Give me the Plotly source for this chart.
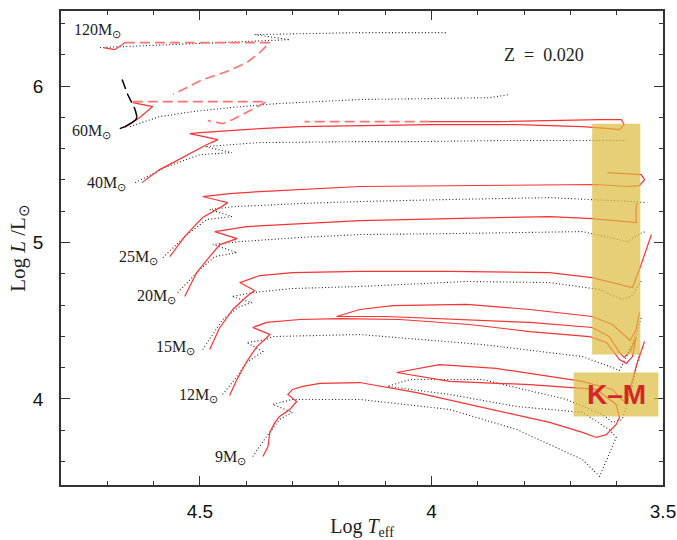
import plotly.graph_objects as go

# ---------------- data: (log Teff, log L/Lsun) ----------------
# 120 Msun
m120_red_x = [4.709, 4.684, 4.668, 4.662]
m120_red_y = [6.246, 6.233, 6.265, 6.278]
m120_dash_x = [4.662, 4.500, 4.349, 4.371, 4.399, 4.442, 4.494, 4.558]
m120_dash_y = [6.278, 6.278, 6.278, 6.214, 6.150, 6.093, 6.042, 5.946]
m120_dot_x = [4.716, 4.500, 4.306, 4.382, 4.285, 4.155, 3.967]
m120_dot_y = [6.246, 6.272, 6.297, 6.329, 6.335, 6.342, 6.342]

# 60 Msun
m60_red_x = [4.662, 4.630, 4.602, 4.623, 4.645]
m60_red_y = [5.735, 5.799, 5.869, 5.882, 5.894]
m60_dash_x = [4.645, 4.500, 4.356, 4.367, 4.399, 4.429, 4.451, 4.483]
m60_dash_y = [5.901, 5.901, 5.901, 5.882, 5.831, 5.786, 5.760, 5.780]
m60_kdash_x = [4.668, 4.662, 4.656, 4.647, 4.640, 4.636]
m60_kdash_y = [6.042, 5.990, 5.946, 5.894, 5.850, 5.805]
m60_ksolid_x = [4.636, 4.638, 4.647, 4.662, 4.673]
m60_ksolid_y = [5.805, 5.786, 5.767, 5.741, 5.728]
m60_dot_x = [4.651, 4.587, 4.515, 4.436, 4.334, 4.155, 4.004, 3.875, 3.832]
m60_dot_y = [5.741, 5.805, 5.837, 5.862, 5.888, 5.914, 5.920, 5.926, 5.946]

# 40 Msun
m40_red_x = [4.625, 4.587, 4.554, 4.515, 4.489, 4.461, 4.489, 4.522, 4.500, 4.436, 4.371, 4.285,
             4.155, 4.004, 3.816, 3.674, 3.616, 3.594, 3.584, 3.590, 3.637, 3.724, 3.853, 4.004]
m40_red_y = [5.383, 5.466, 5.517, 5.581, 5.620, 5.658, 5.677, 5.696, 5.703, 5.716, 5.728, 5.741,
             5.748, 5.754, 5.754, 5.741, 5.728, 5.722, 5.754, 5.786, 5.786, 5.780, 5.773, 5.773]
m40_dash_x = [4.004, 4.274]
m40_dash_y = [5.773, 5.773]
m40_dot_x = [4.640, 4.576, 4.500, 4.431, 4.489, 4.371, 4.155, 4.032, 3.853, 3.579]
m40_dot_y = [5.383, 5.479, 5.562, 5.575, 5.613, 5.639, 5.645, 5.645, 5.652, 5.652]

# 25 Msun
m25_red_x = [4.565, 4.548, 4.533, 4.511, 4.494, 4.457, 4.440, 4.468, 4.494, 4.436, 4.371, 4.155,
             3.961, 3.717, 3.644, 3.577, 3.551, 3.540, 3.547, 3.620]
m25_red_y = [4.910, 4.974, 5.038, 5.108, 5.160, 5.223, 5.255, 5.275, 5.294, 5.313, 5.326, 5.358,
             5.364, 5.371, 5.371, 5.358, 5.364, 5.402, 5.434, 5.447]
m25_dot_x = [4.580, 4.528, 4.485, 4.431, 4.479, 4.425, 4.285, 4.155, 3.961, 3.745, 3.566, 3.534]
m25_dot_y = [4.904, 5.051, 5.147, 5.166, 5.211, 5.230, 5.249, 5.262, 5.275, 5.287, 5.262, 5.255]

# 20 Msun
m20_red_x = [4.533, 4.507, 4.479, 4.457, 4.420, 4.468, 4.399, 4.285, 4.155, 3.961, 3.745, 3.653,
             3.558, 3.558, 3.555]
m20_red_y = [4.655, 4.808, 4.910, 4.987, 5.025, 5.070, 5.102, 5.121, 5.140, 5.153, 5.166, 5.153,
             5.128, 5.230, 5.255]
m20_dot_x = [4.548, 4.500, 4.468, 4.420, 4.472, 4.414, 4.285, 4.155, 3.961, 3.674, 3.577, 3.545, 3.536]
m20_dot_y = [4.680, 4.827, 4.910, 4.936, 4.987, 5.006, 5.032, 5.051, 5.057, 5.070, 5.006, 5.064, 5.070]

# 15 Msun
m15_red_x = [4.479, 4.457, 4.429, 4.399, 4.382, 4.414, 4.371, 4.300, 4.155, 3.961, 3.745, 3.653,
             3.566, 3.551, 3.525]
m15_red_y = [4.316, 4.457, 4.572, 4.655, 4.693, 4.744, 4.789, 4.808, 4.815, 4.815, 4.808, 4.776,
             4.712, 4.827, 5.051]
m15_dot_x = [4.494, 4.451, 4.414, 4.388, 4.431, 4.386, 4.300, 4.155, 3.924, 3.745, 3.637, 3.588,
             3.568, 3.545]
m15_dot_y = [4.316, 4.508, 4.591, 4.616, 4.655, 4.680, 4.706, 4.719, 4.751, 4.744, 4.700, 4.636,
             4.655, 4.763]

# 12 Msun
m12_red_x = [4.436, 4.420, 4.399, 4.377, 4.360, 4.349, 4.386, 4.356, 4.285, 4.198, 4.069, 3.918,
             3.788, 3.659, 3.622, 3.594, 3.579, 3.566, 3.558, 3.571, 3.584, 3.594, 3.616, 3.653,
             3.788, 3.961, 4.097, 4.205, 4.155, 4.084, 3.924, 3.788, 3.653, 3.609, 3.579, 3.571,
             3.558, 3.551]
m12_red_y = [4.022, 4.124, 4.239, 4.335, 4.380, 4.412, 4.457, 4.489, 4.508, 4.514, 4.508, 4.476,
             4.431, 4.399, 4.361, 4.252, 4.227, 4.271, 4.393, 4.303, 4.265, 4.297, 4.399, 4.457,
             4.489, 4.508, 4.527, 4.527, 4.572, 4.597, 4.604, 4.572, 4.527, 4.476, 4.393, 4.374,
             4.444, 4.552]
m12_dot_x = [4.451, 4.425, 4.399, 4.364, 4.399, 4.356, 4.343, 4.155, 3.890, 3.674, 3.609, 3.594,
             3.579, 3.558, 3.547]
m12_dot_y = [4.029, 4.124, 4.233, 4.303, 4.361, 4.380, 4.399, 4.412, 4.348, 4.271, 4.201, 4.182,
             4.271, 4.412, 4.521]

# 9 Msun
m9_red_x = [4.364, 4.353, 4.349, 4.338, 4.328, 4.306, 4.291, 4.310, 4.300, 4.278, 4.241, 4.155,
            4.032, 3.890, 3.745, 3.674, 3.644, 3.622, 3.601, 3.594, 3.601, 3.644, 3.788, 3.961,
            4.075, 3.983, 3.860, 3.674, 3.631, 3.609, 3.590, 3.579, 3.558, 3.540]
m9_red_y = [3.632, 3.696, 3.786, 3.850, 3.888, 3.933, 3.984, 4.029, 4.061, 4.080, 4.099, 4.105,
            4.041, 3.946, 3.850, 3.786, 3.754, 3.773, 3.837, 3.882, 3.965, 4.061, 4.092, 4.112,
            4.169, 4.220, 4.195, 4.112, 4.080, 4.061, 3.997, 3.978, 4.207, 4.367]
m9_dot_x = [4.386, 4.356, 4.328, 4.300, 4.343, 4.300, 4.155, 3.961, 3.816, 3.674, 3.637, 3.609,
            3.601, 3.616, 3.674, 3.816, 3.961, 4.095, 4.047, 3.890, 3.709, 3.631, 3.609, 3.588,
            3.566, 3.551]
m9_dot_y = [3.632, 3.760, 3.869, 3.914, 3.965, 3.997, 3.997, 3.933, 3.805, 3.613, 3.505, 3.696,
            3.754, 3.805, 3.914, 3.952, 4.029, 4.080, 4.124, 4.124, 3.997, 3.901, 3.850, 3.869,
            4.080, 4.297]

# mass labels (text anchored at right edge)
mass_labels = ["120", "60", "40", "25", "20", "15", "12", "9"]
label_x = [4.666, 4.688, 4.655, 4.587, 4.548, 4.507, 4.457, 4.397]
label_y = [6.377, 5.731, 5.396, 4.923, 4.677, 4.348, 4.044, 3.645]

# highlighted K-M regions (log Teff range, log L range)
rsg_box_x = [3.653, 3.549]
rsg_box_y = [4.284, 5.760]
km_box_x = [3.693, 3.510]
km_box_y = [3.888, 4.169]
km_text_pos = [3.600, 4.030]
z_text_pos = [3.756, 6.201]

# ---------------- styles ----------------
RED = "rgb(255,50,50)"
RED_DASH = "rgb(255,115,115)"
DOT = "rgb(35,35,35)"

fig = go.Figure()

dotted = [(m120_dot_x, m120_dot_y), (m60_dot_x, m60_dot_y), (m40_dot_x, m40_dot_y),
          (m25_dot_x, m25_dot_y), (m20_dot_x, m20_dot_y), (m15_dot_x, m15_dot_y),
          (m12_dot_x, m12_dot_y), (m9_dot_x, m9_dot_y)]
for xs, ys in dotted:
    fig.add_trace(go.Scatter(x=xs, y=ys, mode="lines",
                             line=dict(color=DOT, width=1.1, dash="1px,2.3px"),
                             hoverinfo="skip", showlegend=False))

solid = [(m120_red_x, m120_red_y), (m60_red_x, m60_red_y), (m40_red_x, m40_red_y),
         (m25_red_x, m25_red_y), (m20_red_x, m20_red_y), (m15_red_x, m15_red_y),
         (m12_red_x, m12_red_y), (m9_red_x, m9_red_y)]
for xs, ys in solid:
    fig.add_trace(go.Scatter(x=xs, y=ys, mode="lines",
                             line=dict(color=RED, width=1.2),
                             hoverinfo="skip", showlegend=False))

for xs, ys in [(m120_dash_x, m120_dash_y), (m60_dash_x, m60_dash_y), (m40_dash_x, m40_dash_y)]:
    fig.add_trace(go.Scatter(x=xs, y=ys, mode="lines",
                             line=dict(color=RED_DASH, width=1.6, dash="10px,5px"),
                             hoverinfo="skip", showlegend=False))

fig.add_trace(go.Scatter(x=m60_kdash_x, y=m60_kdash_y, mode="lines",
                         line=dict(color="black", width=1.5, dash="10px,5px"),
                         hoverinfo="skip", showlegend=False))
fig.add_trace(go.Scatter(x=m60_ksolid_x, y=m60_ksolid_y, mode="lines",
                         line=dict(color="black", width=1.5),
                         hoverinfo="skip", showlegend=False))

# yellow highlight boxes (drawn over the tracks, semi-transparent)
for bx, by in [(rsg_box_x, rsg_box_y), (km_box_x, km_box_y)]:
    fig.add_shape(type="rect", xref="x", yref="y", x0=bx[0], x1=bx[1], y0=by[0], y1=by[1],
                  fillcolor="rgba(219,186,60,0.7)", line=dict(width=0), layer="above")

serif = "Liberation Serif"
for m, lx, ly in zip(mass_labels, label_x, label_y):
    fig.add_annotation(x=lx, y=ly, xref="x", yref="y", text=f"{m}M<sub>⊙</sub>",
                       showarrow=False, xanchor="right", yanchor="middle", yshift=-3,
                       font=dict(family=serif, size=16, color="#222"))

fig.add_annotation(x=z_text_pos[0], y=z_text_pos[1], xref="x", yref="y",
                   text="Z\u00a0\u00a0=\u00a0\u00a00.020", showarrow=False,
                   font=dict(family=serif, size=18, color="#222"))
fig.add_annotation(x=km_text_pos[0], y=km_text_pos[1], xref="x", yref="y",
                   text="<b>K–M</b>", showarrow=False,
                   font=dict(family="Liberation Sans", size=28, color="rgb(212,38,38)"))

axis_common = dict(showgrid=False, zeroline=False, showline=True, mirror="allticks",
                   linecolor="#333", linewidth=1.5, ticks="inside", ticklen=9,
                   tickwidth=1.3, tickcolor="#333", automargin=False,
                   tickfont=dict(family="Liberation Sans", size=19, color="#111"))

fig.update_layout(
    width=677, height=540,
    margin=dict(l=61, r=14, t=11, b=55),
    paper_bgcolor="white", plot_bgcolor="white",
    xaxis=dict(range=[4.8, 3.5], tickmode="linear", tick0=3.5, dtick=0.5,
               minor=dict(dtick=0.1, tick0=3.5, ticks="inside", ticklen=4, tickcolor="#333"),
               ticklabelstandoff=8,
               title=dict(text="Log <i>T</i><sub>eff</sub>", standoff=4,
                          font=dict(family=serif, size=20, color="#222")),
               **axis_common),
    yaxis=dict(range=[3.45, 6.48], tickmode="linear", tick0=0, dtick=1,
               minor=dict(dtick=0.2, tick0=0, ticks="inside", ticklen=4, tickcolor="#333"),
               ticklabelstandoff=12,
               title=dict(text="Log <i>L</i>\u00a0/L<sub>⊙</sub>", standoff=2,
                          font=dict(family=serif, size=21, color="#222")),
               **axis_common),
)

fig.write_html("out.html", config={"displayModeBar": False},
               post_script="document.body.style.margin='0';document.body.style.overflow='hidden';")
